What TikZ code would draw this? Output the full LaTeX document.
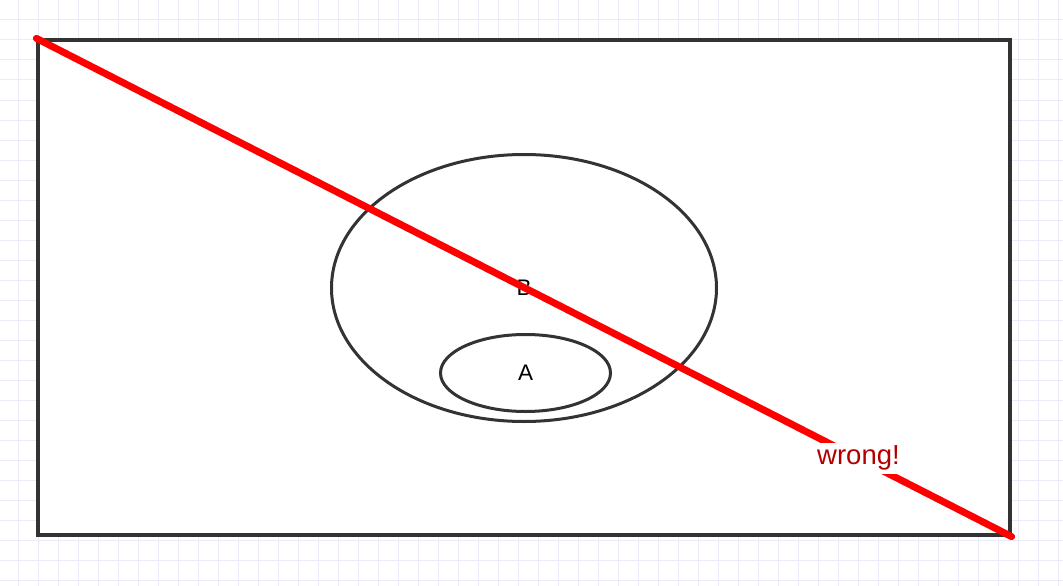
\documentclass[tikz,border=0pt]{standalone}
\usepackage{fontspec}
\setmainfont{Liberation Sans}
\usetikzlibrary{shapes.geometric}

\definecolor{gridblue}{HTML}{EAEAFA}
\definecolor{shapegray}{HTML}{333333}
\definecolor{wrongred}{HTML}{B20000}

\tikzset{
    gridline/.style={draw=gridblue, line width=1pt},
    setbox/.style={ellipse, draw=shapegray, line width=3pt, inner sep=0pt,
        font=\fontsize{22.5}{26}\selectfont},
    cross/.style={draw=red, line width=7pt, line cap=round}
}

\begin{document}
\begin{tikzpicture}[x=1pt,y=-1pt]
            \useasboundingbox (0,0) rectangle (1063,586);
            \fill[white] (0,0) rectangle (1063,586);
            \foreach \gx in {18,38,...,1058}
                \draw[gridline] (\gx,0) -- (\gx,586);
            \foreach \gy in {0,20,...,580}
                \draw[gridline] (0,\gy) -- (1063,\gy);
            \node [draw=shapegray, fill=white, line width=3.2pt, minimum width=972pt,
                minimum height=495pt, inner sep=0pt] (frame) at (524,287.5) {};
            \node [setbox, minimum width=385pt, minimum height=267pt] (setB) at (524,288) {B};
            \node [setbox, minimum width=170pt, minimum height=77pt] (setA) at (525.5,373) {A};
            \draw[cross] (frame.north west) -- (frame.south east)
                node [pos=0.843, fill=white, text=wrongred, inner sep=3pt,
                    font=\fontsize{27.5}{32}\selectfont] (wrong) {wrong!};
        \end{tikzpicture}
\end{document}
